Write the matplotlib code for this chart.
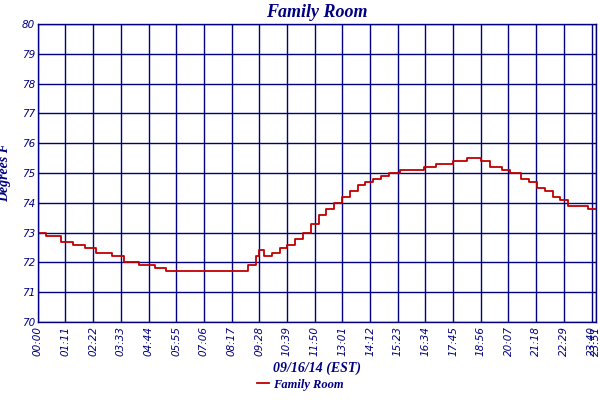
import matplotlib
matplotlib.use("Agg")
import matplotlib.pyplot as plt

times = ["00:00","00:20","01:00","01:30","02:00","02:30","03:10","03:40","04:20","05:00","05:30",
         "08:40","09:00","09:20","09:28","09:40","10:00","10:20","10:40","11:00","11:20","11:40",
         "12:00","12:20","12:40","13:00","13:20","13:40","14:00","14:20","14:40","15:00","15:30",
         "16:30","17:00","17:45","18:20","18:56","19:20","19:50","20:10","20:40","21:00","21:20",
         "21:40","22:00","22:20","22:40","23:30","23:51"]
temps = [73.0,72.9,72.7,72.6,72.5,72.3,72.2,72.0,71.9,71.8,71.7,
         71.7,71.9,72.2,72.4,72.2,72.3,72.5,72.6,72.8,73.0,73.3,
         73.6,73.8,74.0,74.2,74.4,74.6,74.7,74.8,74.9,75.0,75.1,
         75.2,75.3,75.4,75.5,75.4,75.2,75.1,75.0,74.8,74.7,74.5,
         74.4,74.2,74.1,73.9,73.8,73.8]
tick_labels = ["00:00","01:11","02:22","03:33","04:44","05:55","07:06","08:17","09:28","10:39",
               "11:50","13:01","14:12","15:23","16:34","17:45","18:56","20:07","21:18","22:29","23:40","23:51"]

def tomin(s):
    h, m = s.split(":"); return int(h)*60+int(m)

x = [tomin(t) for t in times]
navy = "#000080"
fig = plt.figure(figsize=(6, 4), dpi=100)
ax = fig.add_axes([0.063, 0.195, 0.93, 0.745])
ax.step(x, temps, where="post", color="#c00000", lw=1.3, label="Family Room")
ax.set_xlim(0, 1431)
ax.set_ylim(70, 80)
ax.set_xticks([tomin(t) for t in tick_labels])
ax.set_xticklabels(tick_labels, rotation=90, fontsize=7.5, color=navy, fontstyle="italic")
ax.set_yticks(range(70, 81))
ax.tick_params(axis="y", labelsize=7.5, labelcolor=navy, length=0, pad=2)
ax.tick_params(axis="x", length=0, pad=3)
for l in ax.get_yticklabels(): l.set_fontstyle("italic")
ax.grid(True, color=navy, lw=1)
for s in ax.spines.values(): s.set_color(navy); s.set_linewidth(1)
ax.set_axisbelow(True)
ax.set_title("Family Room", fontsize=13, color=navy, family="Liberation Serif", fontstyle="italic", fontweight="bold", pad=5)
ax.set_ylabel("Degrees F", fontsize=10, color=navy, family="Liberation Serif", fontstyle="italic", fontweight="bold")
ax.yaxis.set_label_coords(-0.047, 0.5)
ax.set_xlabel("09/16/14 (EST)", fontsize=10, color=navy, family="Liberation Serif", fontstyle="italic", fontweight="bold", labelpad=4)
leg = fig.legend(loc="lower center", bbox_to_anchor=(0.5, -0.005), frameon=False, handlelength=1, handletextpad=0.3,
                 prop={"family": "Liberation Serif", "style": "italic", "weight": "bold", "size": 9})
for t in leg.get_texts(): t.set_color(navy)
fig.savefig("out.png", dpi=100, facecolor="white")
